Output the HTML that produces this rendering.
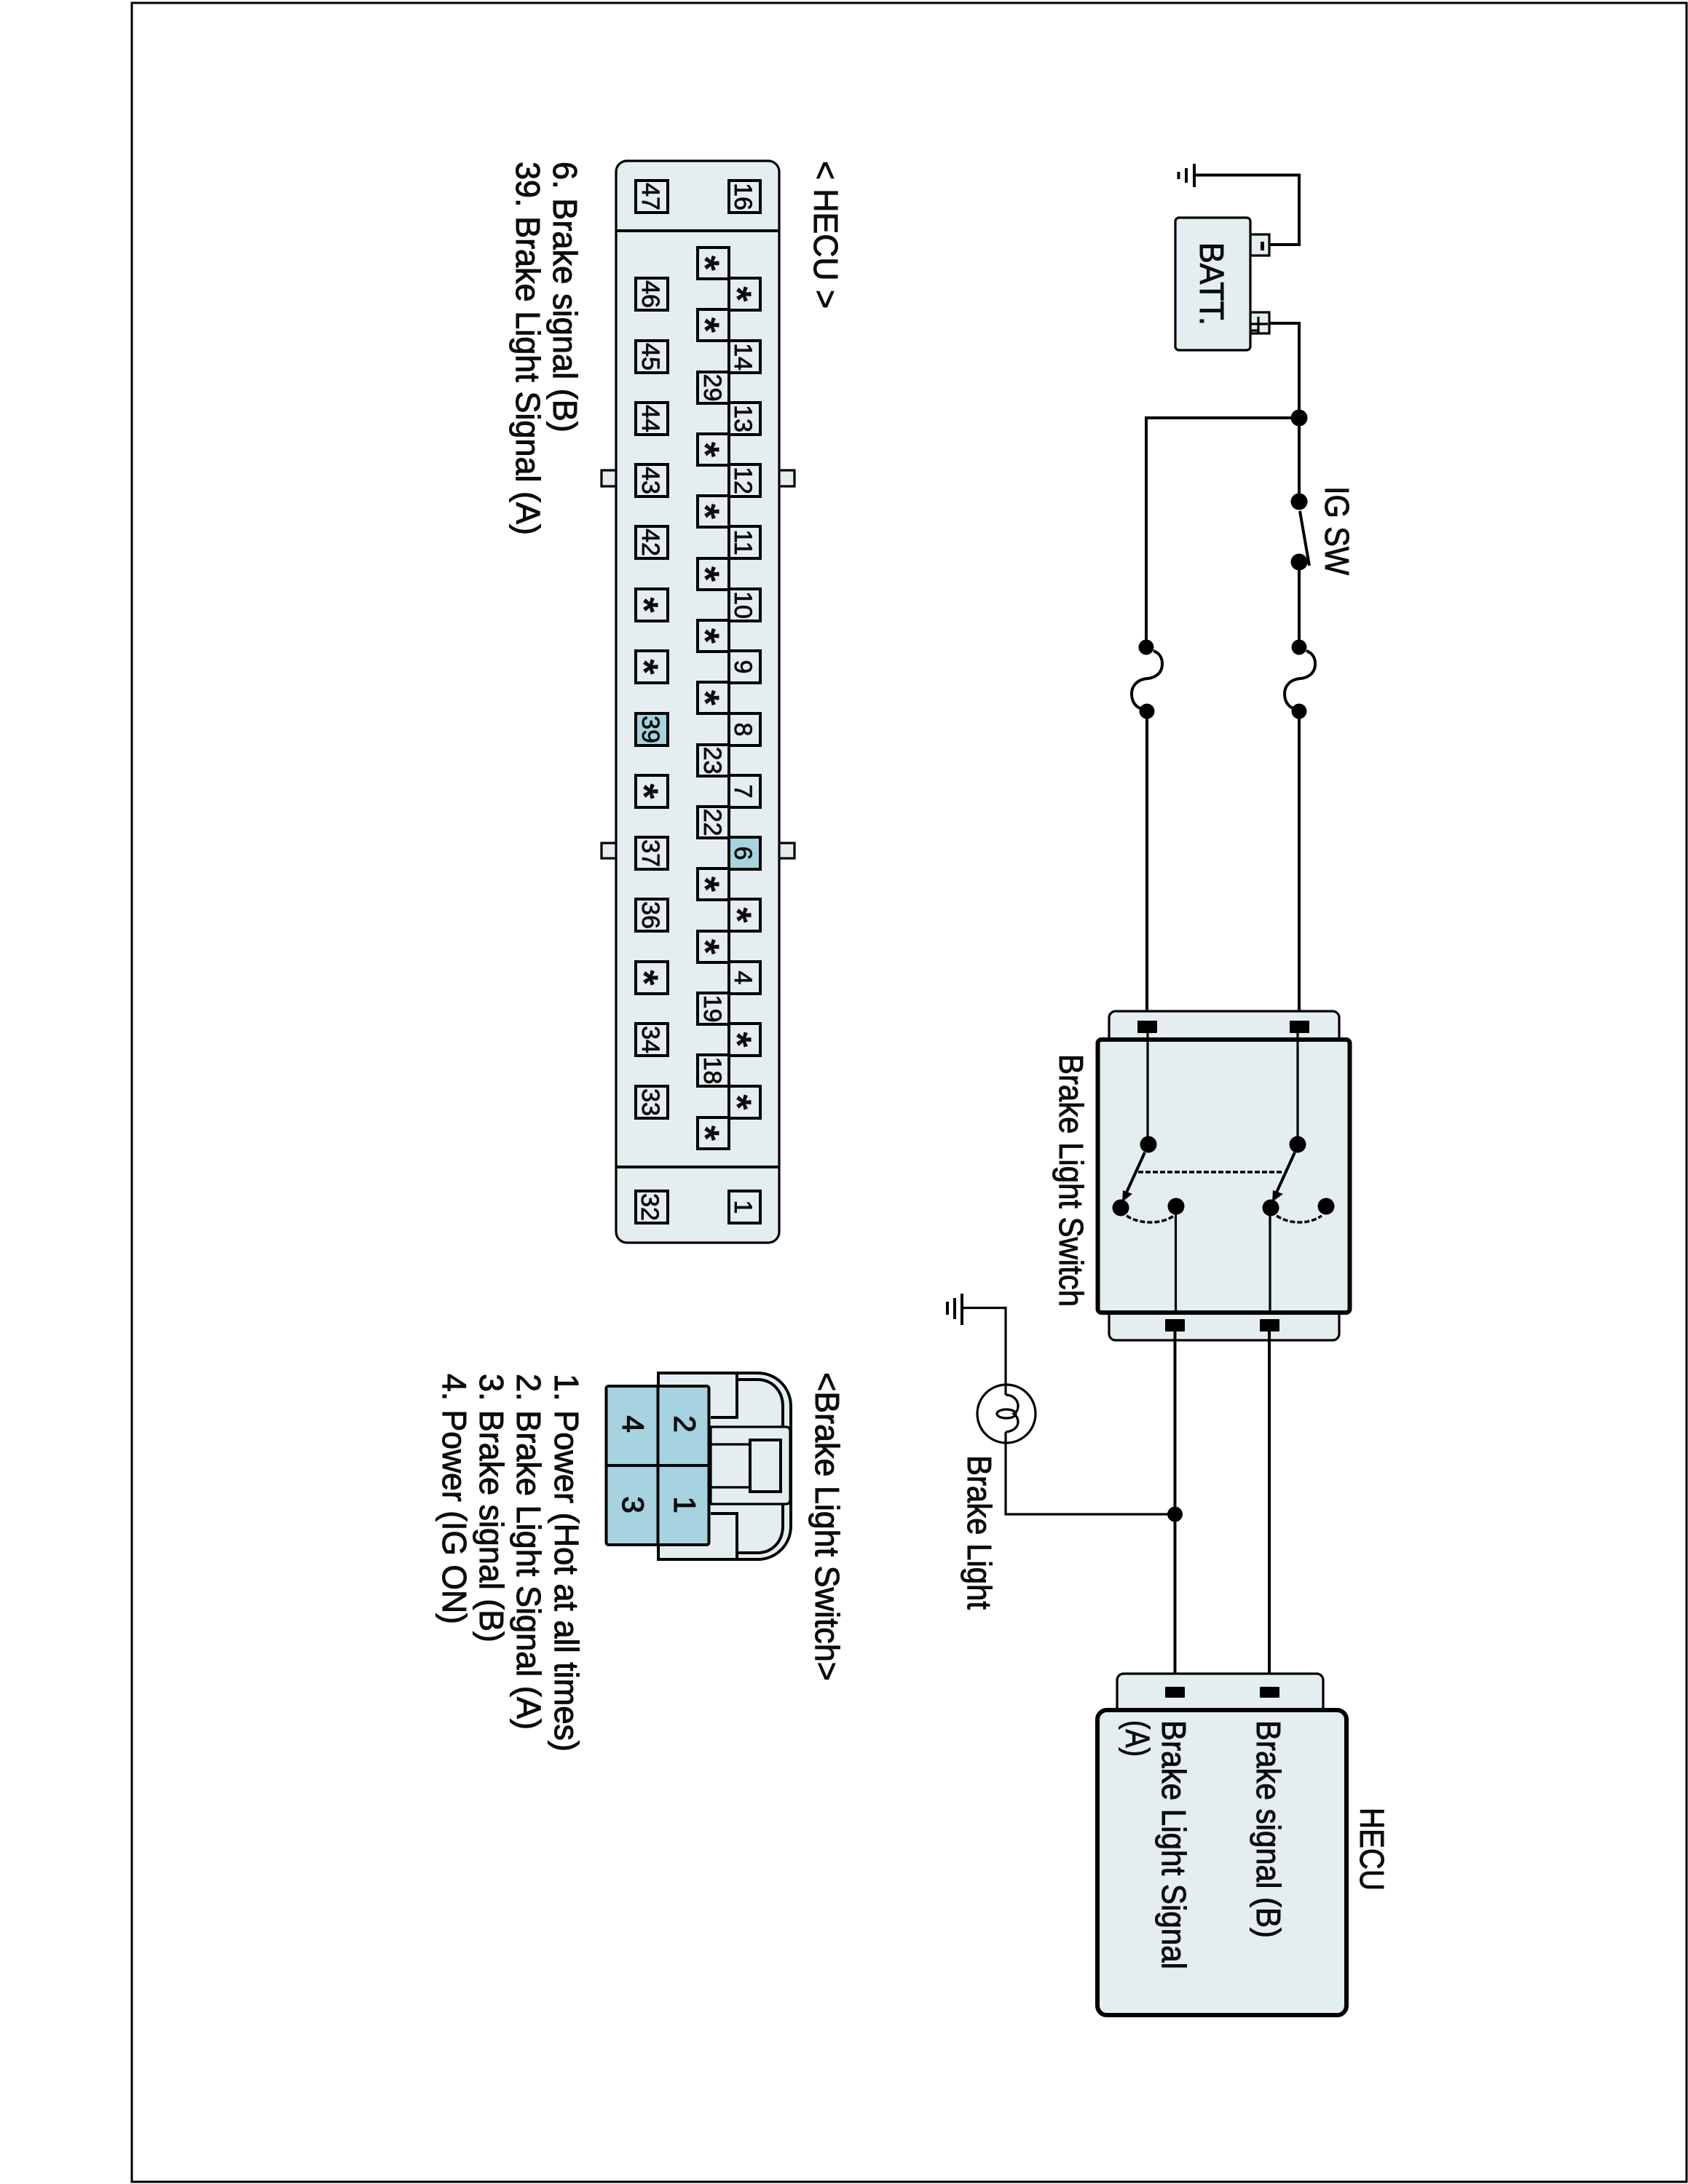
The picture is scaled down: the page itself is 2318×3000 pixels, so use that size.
<!DOCTYPE html>
<html><head><meta charset="utf-8"><title>Brake Light Circuit</title>
<style>
html,body{margin:0;padding:0;background:#fff}
svg{display:block}
text{font-family:"Liberation Sans",sans-serif;fill:#0c0c0c;stroke:#0c0c0c}
.l{font-size:46px;stroke-width:1}
.p{font-size:34px;text-anchor:middle;stroke-width:.8}
.s{font-size:55px;font-weight:bold;text-anchor:middle;stroke-width:0}
.n{font-size:42px;text-anchor:middle;stroke-width:1.2}
.w{fill:none;stroke:#000;stroke-width:4}
.t{fill:none;stroke:#000;stroke-width:3.2}
.f{fill:#e4eef0;stroke:#000;stroke-width:3.2}
.b{fill:#e4eef0;stroke:#000;stroke-width:6}
.d{fill:none;stroke:#000;stroke-width:3.5;stroke-dasharray:7 3}
</style></head>
<body>
<svg xmlns="http://www.w3.org/2000/svg" width="2318" height="3000" viewBox="0 0 2318 3000">
<rect width="2318" height="3000" fill="#fff"/>
<rect x="181" y="4" width="2135" height="2993" fill="none" stroke="#000" stroke-width="3"/>

<!-- ground / battery -->
<path class="w" d="M1642 240.500H1784V336H1743"/>
<path class="w" d="M1640 225V257M1629 231V251M1618.500 236V246"/>
<rect class="f" x="1717" y="322" width="26" height="29"/>
<rect class="f" x="1717" y="429" width="26" height="29"/>
<rect class="f" x="1614" y="299" width="103" height="182" rx="5" stroke-width="4"/>
<rect x="1731" y="332" width="5" height="12"/>
<path class="t" d="M1717 445H1741M1728 435V458M1717 454H1728"/>
<path class="w" d="M1743 444H1784V689M1784 772V889M1784 977V1402"/>
<path class="w" d="M1784 574H1574V889M1575 977V1402"/>
<circle cx="1784" cy="574" r="11.500"/>
<circle cx="1784" cy="689" r="11.500"/>
<circle cx="1784" cy="772" r="11.500"/>
<path class="w" d="M1785 702L1798 777"/>

<!-- fuses -->
<path class="w" d="M1584 894C1594 898 1596 905 1596 912C1596 925 1586 931 1576 932C1562 933 1554 942 1554 953C1554 962 1558 970 1566 973"/>
<path class="w" d="M1794 894C1804 898 1806 905 1806 912C1806 925 1796 931 1786 932C1772 933 1764 942 1764 953C1764 962 1768 970 1776 973"/>
<circle cx="1574" cy="889" r="10.500"/><circle cx="1575" cy="977" r="10.500"/>
<circle cx="1784" cy="889" r="10.500"/><circle cx="1784" cy="977" r="10.500"/>

<!-- brake light switch -->
<rect class="f" x="1523" y="1389" width="316" height="60" rx="9"/>
<rect class="f" x="1523" y="1781" width="316" height="60" rx="9"/>
<rect class="b" x="1507.500" y="1428" width="346" height="375" rx="5"/>
<rect x="1562" y="1402" width="27" height="17" rx="1"/>
<rect x="1771" y="1402" width="27" height="17" rx="1"/>
<rect x="1600" y="1812" width="27" height="17" rx="1"/>
<rect x="1730" y="1812" width="27" height="17" rx="1"/>
<path class="t" d="M1576 1419V1572M1782 1419V1572M1614.500 1657V1803M1744 1659V1803"/>
<circle cx="1577" cy="1572" r="11.500"/><circle cx="1782" cy="1572" r="11.500"/>
<circle cx="1539" cy="1659" r="11.500"/><circle cx="1615" cy="1657" r="11.500"/>
<circle cx="1745" cy="1659" r="11.500"/><circle cx="1821" cy="1657" r="11.500"/>
<path class="w" d="M1572 1583L1546 1640M1778 1583L1752 1640"/>
<polygon points="1541,1651 1542,1635 1555,1640"/>
<polygon points="1747,1651 1748,1635 1762,1640"/>
<path class="d" d="M1563 1610H1763"/>
<path class="d" d="M1547 1670C1565 1682 1595 1682 1612 1670"/>
<path class="d" d="M1753 1670C1771 1682 1798 1682 1815 1670"/>

<!-- lower wires -->
<path class="w" d="M1613.500 1829V2317M1743 1829V2317"/>

<!-- lamp -->
<path class="t" d="M1321 1796.500H1381V1916M1381 1967V2080H1613"/>
<path class="w" d="M1321 1777V1820M1311 1783V1812M1301 1788V1806"/>
<circle class="t" cx="1382" cy="1942" r="40"/>
<path class="t" d="M1381 1916C1392 1916 1398 1924 1398 1931C1398 1937 1396 1940 1392 1942C1396 1945 1398 1949 1398 1953C1398 1960 1392 1966 1381 1967"/>
<ellipse class="t" cx="1382" cy="1942" rx="13" ry="6"/>
<circle cx="1613.500" cy="2080" r="10.500"/>

<!-- HECU box -->
<rect class="f" x="1534" y="2299" width="283" height="70" rx="9"/>
<rect class="b" x="1507" y="2349" width="342" height="419" rx="13"/>
<rect x="1600" y="2317" width="27" height="15" rx="1"/>
<rect x="1730" y="2317" width="27" height="15" rx="1"/>
<path class="w" d="M1613.500 2317V2332M1743 2317V2332"/>

<!-- HECU connector -->
<rect class="f" x="826" y="646" width="30" height="22"/>
<rect class="f" x="1060" y="646" width="31" height="22"/>
<rect class="f" x="826" y="1158" width="30" height="21"/>
<rect class="f" x="1060" y="1158" width="31" height="21"/>
<rect class="f" x="846" y="221" width="224" height="1486" rx="15" stroke-width="4"/>
<path class="w" d="M846 317H1070M846 1603H1070"/>
<g fill="#e4eef0" stroke="#000" stroke-width="4">
<rect x="873" y="248" width="44" height="44"/><rect x="1001" y="248" width="43" height="44"/>
<rect x="873" y="382" width="44" height="44"/><rect x="873" y="468" width="44" height="44"/>
<rect x="873" y="553" width="44" height="44"/><rect x="873" y="638" width="44" height="44"/>
<rect x="873" y="723" width="44" height="44"/><rect x="873" y="809" width="44" height="44"/>
<rect x="873" y="894" width="44" height="44"/><rect x="873" y="980" width="44" height="44" fill="#a6d3df"/>
<rect x="873" y="1065" width="44" height="44"/><rect x="873" y="1150" width="44" height="44"/>
<rect x="873" y="1235" width="44" height="44"/><rect x="873" y="1321" width="44" height="44"/>
<rect x="873" y="1406" width="44" height="44"/><rect x="873" y="1492" width="44" height="44"/>
<rect x="873" y="1636" width="44" height="44"/><rect x="1001" y="1636" width="43" height="44"/>
<rect x="1001" y="382" width="43" height="44"/><rect x="1001" y="468" width="43" height="44"/>
<rect x="1001" y="553" width="43" height="44"/><rect x="1001" y="638" width="43" height="44"/>
<rect x="1001" y="723" width="43" height="44"/><rect x="1001" y="809" width="43" height="44"/>
<rect x="1001" y="894" width="43" height="44"/><rect x="1001" y="980" width="43" height="44"/>
<rect x="1001" y="1065" width="43" height="44"/><rect x="1001" y="1150" width="43" height="44" fill="#a6d3df"/>
<rect x="1001" y="1235" width="43" height="44"/><rect x="1001" y="1321" width="43" height="44"/>
<rect x="1001" y="1406" width="43" height="44"/><rect x="1001" y="1492" width="43" height="44"/>
<rect x="958" y="340" width="43" height="43"/><rect x="958" y="425" width="43" height="43"/>
<rect x="958" y="511" width="43" height="43"/><rect x="958" y="596" width="43" height="43"/>
<rect x="958" y="681" width="43" height="43"/><rect x="958" y="767" width="43" height="43"/>
<rect x="958" y="852" width="43" height="43"/><rect x="958" y="937" width="43" height="43"/>
<rect x="958" y="1023" width="43" height="43"/><rect x="958" y="1108" width="43" height="43"/>
<rect x="958" y="1193" width="43" height="43"/><rect x="958" y="1279" width="43" height="43"/>
<rect x="958" y="1364" width="43" height="43"/><rect x="958" y="1449" width="43" height="43"/>
<rect x="958" y="1535" width="43" height="43"/>
</g>

<!-- switch connector -->
<path d="M904 1886H1040C1066 1886 1086 1906 1086 1932V2096C1086 2122 1066 2142 1040 2142H904Z" fill="#e4eef0" stroke="#000" stroke-width="4"/>
<path class="w" d="M1012 1886V1947H976M1012 2142V2079H976"/>
<path class="w" d="M1012 1895H1040C1060 1895 1075 1910 1075 1932V1960M1012 2133H1040C1060 2133 1075 2118 1075 2096V2066"/>
<path d="M976 1960H1079Q1085 1960 1085 1966V2060Q1085 2066 1079 2066H976Z" fill="#e4eef0" stroke="#000" stroke-width="3.200"/>
<path class="t" d="M976 1984H1030M976 2043H1030"/>
<rect x="1030" y="1978" width="42" height="71" fill="#e4eef0" stroke="#000" stroke-width="4"/>
<rect x="832.500" y="1904" width="141" height="218" rx="3" fill="#a6d3df" stroke="#000" stroke-width="4"/>
<path class="w" d="M903.500 1904V2122M832.500 2013H973.500"/>

<!-- all text rotated 90 deg clockwise: x = screen y, y = -screen x -->
<g transform="rotate(90)">
<text class="l" x="333" y="-1648" textLength="114" lengthAdjust="spacingAndGlyphs">BATT.</text>
<text class="l" x="668" y="-1820" textLength="122" lengthAdjust="spacingAndGlyphs">IG SW</text>
<text class="l" x="1448" y="-1455" textLength="347" lengthAdjust="spacingAndGlyphs">Brake Light Switch</text>
<text class="l" x="1999" y="-1329" textLength="212" lengthAdjust="spacingAndGlyphs">Brake Light</text>
<text class="l" x="2363" y="-1726" textLength="299" lengthAdjust="spacingAndGlyphs">Brake signal (B)</text>
<text class="l" x="2363" y="-1596" textLength="342" lengthAdjust="spacingAndGlyphs">Brake Light Signal</text>
<text class="l" x="2363" y="-1546" textLength="50" lengthAdjust="spacingAndGlyphs">(A)</text>
<text class="l" x="2483" y="-1868" textLength="114" lengthAdjust="spacingAndGlyphs">HECU</text>
<text class="l" x="221" y="-1118" textLength="203" lengthAdjust="spacingAndGlyphs">&lt; HECU &gt;</text>
<text class="l" x="222" y="-760" textLength="372" lengthAdjust="spacingAndGlyphs">6. Brake signal (B)</text>
<text class="l" x="222" y="-709" textLength="513" lengthAdjust="spacingAndGlyphs">39. Brake Light Signal (A)</text>
<text class="l" x="1885" y="-1120" textLength="424" lengthAdjust="spacingAndGlyphs">&lt;Brake Light Switch&gt;</text>
<text class="l" x="1887" y="-762" textLength="519" lengthAdjust="spacingAndGlyphs">1. Power (Hot at all times)</text>
<text class="l" x="1887" y="-710" textLength="489" lengthAdjust="spacingAndGlyphs">2. Brake Light Signal (A)</text>
<text class="l" x="1887" y="-659" textLength="369" lengthAdjust="spacingAndGlyphs">3. Brake signal (B)</text>
<text class="l" x="1887" y="-608" textLength="344" lengthAdjust="spacingAndGlyphs">4. Power (IG ON)</text>

<text class="n" x="1956" y="-926">2</text><text class="n" x="1956" y="-855">4</text>
<text class="n" x="2067" y="-926">1</text><text class="n" x="2067" y="-855">3</text>

<text class="p" x="270" y="-882">47</text><text class="p" x="270" y="-1009">16</text>
<text class="p" x="1658" y="-881">32</text><text class="p" x="1658" y="-1009">1</text>

<text class="p" x="404" y="-882">46</text><text class="p" x="490" y="-882">45</text>
<text class="p" x="575" y="-882">44</text><text class="p" x="660" y="-882">43</text>
<text class="p" x="745" y="-882">42</text><text class="s" x="831" y="-866">*</text>
<text class="s" x="916" y="-866">*</text><text class="p" x="1002" y="-882">39</text>
<text class="s" x="1087" y="-866">*</text><text class="p" x="1172" y="-882">37</text>
<text class="p" x="1257" y="-882">36</text><text class="s" x="1343" y="-866">*</text>
<text class="p" x="1428" y="-882">34</text><text class="p" x="1514" y="-882">33</text>

<text class="s" x="404" y="-994">*</text><text class="p" x="490" y="-1009">14</text>
<text class="p" x="575" y="-1009">13</text><text class="p" x="660" y="-1009">12</text>
<text class="p" x="745" y="-1009">11</text><text class="p" x="831" y="-1009">10</text>
<text class="p" x="916" y="-1009">9</text><text class="p" x="1002" y="-1009">8</text>
<text class="p" x="1087" y="-1009">7</text><text class="p" x="1172" y="-1009">6</text>
<text class="s" x="1257" y="-994">*</text><text class="p" x="1343" y="-1009">4</text>
<text class="s" x="1428" y="-994">*</text><text class="s" x="1514" y="-994">*</text>

<text class="s" x="361.500" y="-950">*</text><text class="s" x="446.500" y="-950">*</text>
<text class="p" x="532.500" y="-967">29</text><text class="s" x="617.500" y="-950">*</text>
<text class="s" x="702.500" y="-950">*</text><text class="s" x="788.500" y="-950">*</text>
<text class="s" x="873.500" y="-950">*</text><text class="s" x="958.500" y="-950">*</text>
<text class="p" x="1044.500" y="-967">23</text><text class="p" x="1129.500" y="-967">22</text>
<text class="s" x="1214.500" y="-950">*</text><text class="s" x="1300.500" y="-950">*</text>
<text class="p" x="1385.500" y="-967">19</text><text class="p" x="1470.500" y="-967">18</text>
<text class="s" x="1556.500" y="-950">*</text>
</g>
</svg>
</body></html>
